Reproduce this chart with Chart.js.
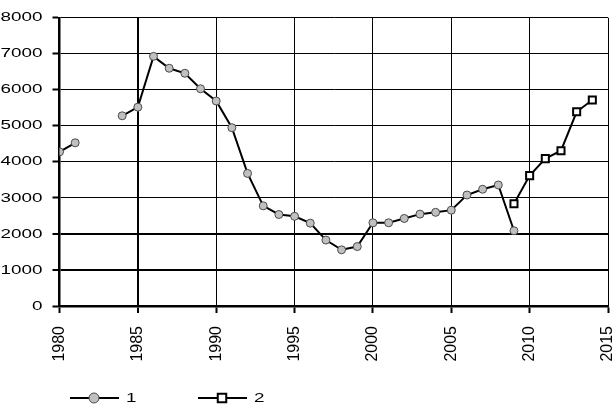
<!DOCTYPE html>
<html>
<head>
<meta charset="utf-8">
<script src="https://cdn.jsdelivr.net/npm/chart.js@4"></script>
<style>
  html, body { margin: 0; padding: 0; background: #fff; }
  canvas { display: block; }
</style>
</head>
<body>
<canvas id="chart" width="615" height="405"></canvas>
<script>
// series 1 (gray circles), gap in 1982-1983
const years1 = [1980, 1981, 1982, 1983, 1984, 1985, 1986, 1987, 1988, 1989,
                1990, 1991, 1992, 1993, 1994, 1995, 1996, 1997, 1998, 1999,
                2000, 2001, 2002, 2003, 2004, 2005, 2006, 2007, 2008, 2009];
const values1 = [4280, 4530, null, null, 5280, 5520, 6930, 6600, 6460, 6030,
                 5690, 4950, 3680, 2780, 2540, 2490, 2300, 1830, 1560, 1650,
                 2310, 2310, 2430, 2550, 2600, 2660, 3080, 3240, 3360, 2090];

// series 2 (white squares)
const years2 = [2009, 2010, 2011, 2012, 2013, 2014];
const values2 = [2840, 3620, 4090, 4310, 5390, 5720];

const seriesNames = ['1', '2'];
const xMin = 1980, xMax = 2015, xStep = 5;
const yMin = 0, yMax = 8000, yStep = 1000;

const FONT = '"Liberation Sans", Arial, sans-serif';
const TEXT_STRETCH = 1.45;

// horizontal text in the reference is stretched sideways; widen it around its anchor
const stretchText = {
  id: 'stretchText',
  beforeDraw(chart) {
    const ctx = chart.ctx;
    if (ctx._stretched) return;
    const orig = ctx.fillText.bind(ctx);
    ctx.fillText = function (text, x, y) {
      const m = ctx.getTransform();
      if (Math.abs(m.b) > 1e-6 || Math.abs(m.c) > 1e-6) {
        orig(text, x, y);   // rotated labels are left as they are
        return;
      }
      const p = m.transformPoint(new DOMPoint(x, y));
      ctx.save();
      ctx.setTransform(new DOMMatrix().translate(p.x, p.y).scale(TEXT_STRETCH, 1).translate(-p.x, -p.y).multiply(m));
      orig(text, x, y);
      ctx.restore();
    };
    ctx._stretched = true;
  }
};

// legend: short line with the marker in the middle, then the name
const lineLegend = {
  id: 'lineLegend',
  afterDraw(chart) {
    const ctx = chart.ctx;
    const y = 398;
    chart.data.datasets.forEach((ds, i) => {
      const x0 = 70 + i * 128;
      ctx.save();
      ctx.strokeStyle = ds.borderColor;
      ctx.lineWidth = ds.borderWidth;
      ctx.beginPath();
      ctx.moveTo(x0, y);
      ctx.lineTo(x0 + 49, y);
      ctx.stroke();
      ctx.fillStyle = ds.pointBackgroundColor;
      ctx.strokeStyle = ds.pointBorderColor;
      ctx.lineWidth = ds.pointBorderWidth;
      Chart.helpers.drawPoint(ctx, {
        pointStyle: ds.pointStyle,
        radius: ds.pointRadius + 1,
        borderWidth: ds.pointBorderWidth
      }, x0 + 24, y);
      ctx.fillStyle = '#000';
      ctx.font = '13px ' + FONT;
      ctx.textBaseline = 'middle';
      ctx.textAlign = 'left';
      ctx.fillText(ds.label, x0 + 56, y);
      ctx.restore();
    });
  }
};

const data1 = years1.map((yr, i) => ({ x: yr, y: values1[i] }));
const data2 = years2.map((yr, i) => ({ x: yr, y: values2[i] }));

new Chart(document.getElementById('chart'), {
  type: 'line',
  data: {
    datasets: [
      {
        label: seriesNames[0],
        data: data1,
        borderColor: '#000',
        borderWidth: 2,
        pointStyle: 'circle',
        pointRadius: 4,
        pointBackgroundColor: '#c0c0c0',
        pointBorderColor: '#4a4a4a',
        pointBorderWidth: 1,
        spanGaps: false,
        tension: 0
      },
      {
        label: seriesNames[1],
        data: data2,
        borderColor: '#000',
        borderWidth: 2,
        pointStyle: 'rect',
        pointRadius: 5,
        pointBackgroundColor: '#fff',
        pointBorderColor: '#000',
        pointBorderWidth: 2,
        tension: 0
      }
    ]
  },
  options: {
    responsive: false,
    animation: false,
    layout: { padding: { top: 7, right: 6, bottom: 44, left: 0 } },
    plugins: {
      legend: { display: false },
      tooltip: { enabled: false }
    },
    scales: {
      x: {
        type: 'linear',
        min: xMin,
        max: xMax,
        afterFit(scale) {
          scale.height = 55;
          scale.paddingLeft = 0;
          scale.paddingRight = 0;
        },
        ticks: {
          stepSize: xStep,
          maxRotation: 90,
          minRotation: 90,
          padding: 13,
          color: '#000',
          font: { family: FONT, size: 16 },
          callback: v => String(v)
        },
        grid: {
          color: '#000',
          lineWidth: c => (c.tick && c.tick.value === 1985 ? 2 : 1),
          tickLength: 7,
          tickWidth: 2,
          tickColor: '#000'
        },
        border: { display: true, color: '#000', width: 2.5 }
      },
      y: {
        min: yMin,
        max: yMax,
        afterFit(scale) { scale.width = 59.5; },
        ticks: {
          stepSize: yStep,
          padding: 10,
          color: '#000',
          font: { family: FONT, size: 13 },
          callback: v => String(v)
        },
        grid: {
          color: '#000',
          lineWidth: c => (c.tick && (c.tick.value === 1000 || c.tick.value === 2000) ? 2 : 1),
          tickLength: 7,
          tickWidth: 2,
          tickColor: '#000'
        },
        border: { display: true, color: '#000', width: 2.5 }
      }
    }
  },
  plugins: [stretchText, lineLegend]
});
</script>
</body>
</html>
